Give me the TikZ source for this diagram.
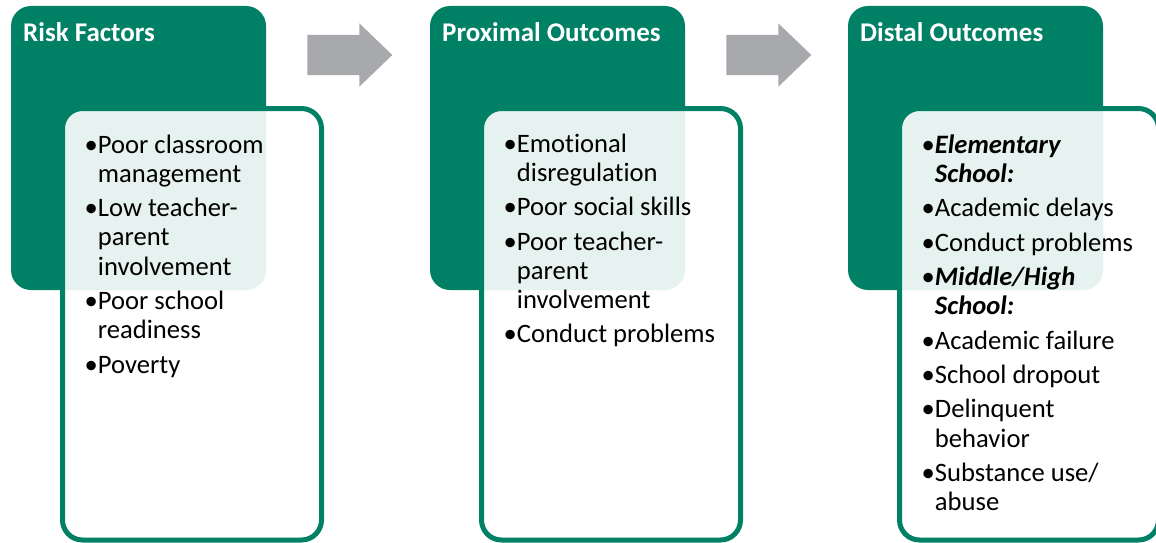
\documentclass[tikz,border=0pt]{standalone}
\usepackage{fontspec}
\setmainfont{Carlito}[Ligatures=NoCommon]
\definecolor{tgreen}{RGB}{0,128,100}
\definecolor{tgray}{RGB}{167,169,172}
\begin{document}
\begin{tikzpicture}[x=1pt,y=-1pt,
  greenbox/.style={rectangle, fill=tgreen, rounded corners=20pt, minimum width=255pt, minimum height=284pt, anchor=north west, inner sep=0pt, outer sep=0pt},
  listbox/.style={rectangle, draw=tgreen, line width=5pt, fill=white, fill opacity=0.9, rounded corners=20pt, minimum width=259pt, minimum height=431.5pt, anchor=north west, inner sep=0pt, outer sep=0pt},
  headtext/.style={text=white, font=\fontsize{27}{30}\selectfont\bfseries, anchor=base west, inner sep=0pt},
  itemtext/.style={text=black, font=\fontsize{26.6}{30}\selectfont, anchor=base west, inner sep=0pt},
  blockarrow/.style={fill=tgray}]
\useasboundingbox (0,0) rectangle (1156,543);

% boxes
\node[greenbox] (g1) at (11,6) {};
\node[greenbox] (g2) at (430,6) {};
\node[greenbox] (g3) at (848,6) {};
\node[listbox] (w1) at (62.5,108.5) {};
\node[listbox] (w2) at (481.5,108.5) {};
\node[listbox] (w3) at (899.5,108.5) {};

% arrows
\fill[blockarrow] (307.3,35) -- (359.3,35) -- (359.3,23.3) -- (392.3,55) -- (359.3,86.7) -- (359.3,75) -- (307.3,75) -- cycle;
\fill[blockarrow] (726.3,35) -- (778.3,35) -- (778.3,23.3) -- (811.3,55) -- (778.3,86.7) -- (778.3,75) -- (726.3,75) -- cycle;

% headers
\node[headtext] (h1) at (23,41.5) {Risk Factors};
\node[headtext] (h2) at (442,41.5) {Proximal Outcomes};
\node[headtext] (h3) at (860,41.5) {Distal Outcomes};

% risk factors
\foreach \y/\t [count=\i] in {
  153/{\textbullet Poor classroom},
  182.2/{\phantom{\textbullet}management},
  216.6/{\textbullet Low teacher-},
  245.8/{\phantom{\textbullet}parent},
  275/{\phantom{\textbullet}involvement},
  309.4/{\textbullet Poor school},
  338.6/{\phantom{\textbullet}readiness},
  373/{\textbullet Poverty}}
  \node[itemtext] (r\i) at (84.5,\y) {\t};

% proximal outcomes
\foreach \y/\t [count=\i] in {
  152/{\textbullet Emotional},
  181.2/{\phantom{\textbullet}disregulation},
  215.6/{\textbullet Poor social skills},
  250/{\textbullet Poor teacher-},
  279.2/{\phantom{\textbullet}parent},
  308.4/{\phantom{\textbullet}involvement},
  342.8/{\textbullet Conduct problems}}
  \node[itemtext] (p\i) at (503.5,\y) {\t};

% distal outcomes
\foreach \y/\t [count=\i] in {
  153/{\textbullet\textbf{\textit{Elementary}}},
  182.2/{\phantom{\textbullet}\textbf{\textit{School:}}},
  216.6/{\textbullet Academic delays},
  251/{\textbullet Conduct problems},
  285.4/{\textbullet\textbf{\textit{Middle/High}}},
  314.6/{\phantom{\textbullet}\textbf{\textit{School:}}},
  349/{\textbullet Academic failure},
  383.4/{\textbullet School dropout},
  417.8/{\textbullet Delinquent},
  447/{\phantom{\textbullet}behavior},
  481.4/{\textbullet Substance use/},
  510.6/{\phantom{\textbullet}abuse}}
  \node[itemtext] (d\i) at (921.5,\y) {\t};
\end{tikzpicture}
\end{document}
